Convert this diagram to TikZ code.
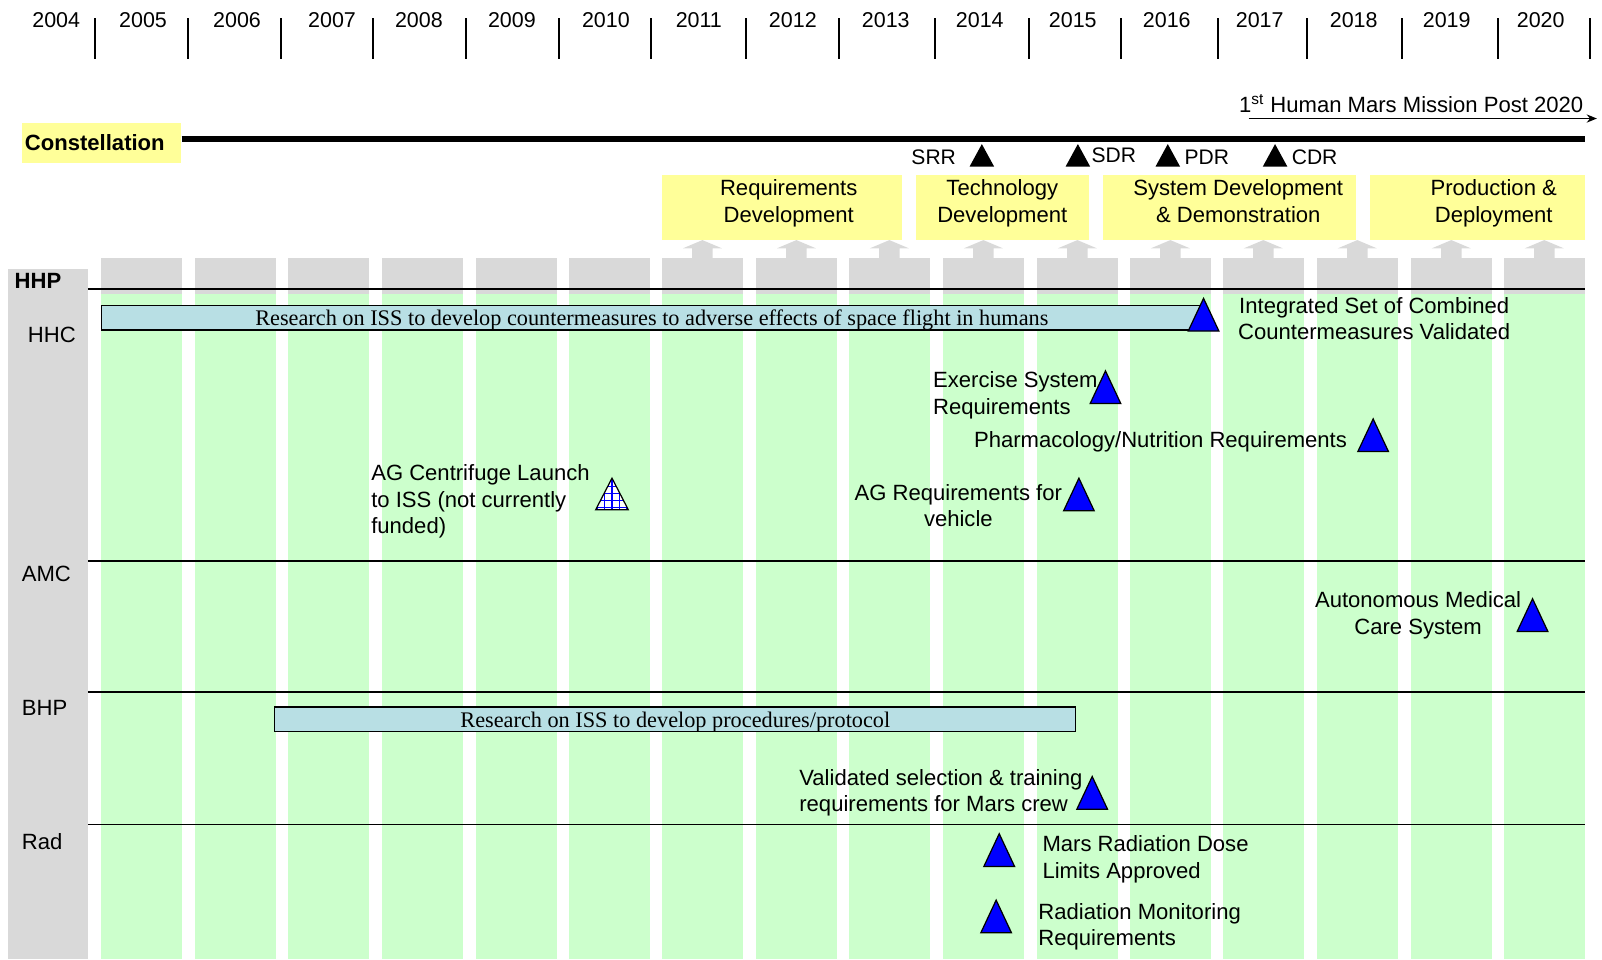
\documentclass[tikz,border=0pt]{standalone}
\usepackage{fontspec}
\setmainfont{Liberation Sans}
\newfontfamily\serifbar{Liberation Serif}
\usetikzlibrary{arrows.meta}
\definecolor{boxyellow}{HTML}{FFFF99}
\definecolor{colgray}{HTML}{D9D9D9}
\definecolor{colgreen}{HTML}{CCFFCC}
\definecolor{barblue}{HTML}{B8DFE4}
\definecolor{triblue}{HTML}{0000FF}
\begin{document}
\begin{tikzpicture}[x=0.5pt,y=-0.5pt,
  every node/.style={inner sep=0pt, font=\fontsize{10.8}{13}\selectfont},
  yearlbl/.style={font=\fontsize{10.5}{12}\selectfont},
  mslbl/.style={font=\fontsize{10.3}{12}\selectfont},
  phasebox/.style={fill=boxyellow, minimum height=32pt},
  rowline/.style={line width=0.8pt},
  researchbar/.style={draw=black, line width=0.6pt, fill=barblue, minimum height=12pt, text depth=0pt,
    font=\serifbar\fontsize{10.9}{12}\selectfont},
  bluetri/.pic={\filldraw[fill=triblue, draw=black, line width=0.6pt] (-15,0) -- (0,-32) -- (15,0) -- cycle;},
  blacktri/.pic={\fill[black] (-12,0) -- (0,-22) -- (12,0) -- cycle;}
]
\useasboundingbox (0,0) rectangle (1568,939);

% year columns
\foreach \cx [count=\i] in {99,191,282,374,466,557,648,740,831,923,1015,1106,1197,1289,1381,1472} {
  \fill[colgreen] (\cx,287) rectangle (\cx+79,939);
  \fill[colgray] (\cx,253) rectangle (\cx+79,288);
  \ifnum\i>6
    \fill[colgray] (\cx+29.5,253) -- (\cx+29.5,243) -- (\cx+20.5,243) -- (\cx+39.5,235)
      -- (\cx+58.5,243) -- (\cx+49.5,243) -- (\cx+49.5,253) -- cycle;
  \fi
}

% left panel
\fill[colgray] (8,263) rectangle (86,939);
\node[anchor=west, font=\bfseries\fontsize{10.8}{13}\selectfont] (hhp) at (14,275) {HHP};
\node[anchor=west] (hhc) at (27,328) {HHC};
\node[anchor=west] (amc) at (21,562) {AMC};
\node[anchor=west] (bhp) at (21,693) {BHP};
\node[anchor=west] (rad) at (21,824) {Rad};

% row lines
\foreach \ly in {283,549,677,807} \draw[rowline] (86,\ly) -- (1551,\ly);

% year ticks and labels
\foreach \tx in {93,184,275,365,456,547,637,730,821,915,1007,1097,1192,1279,1372,1466,1556}
  \draw[line width=0.8pt] (\tx,18) -- (\tx,58);
\foreach \yx/\yr in {55/2004,140/2005,232/2006,325/2007,410/2008,501/2009,593/2010,684/2011,776/2012,867/2013,959/2014,1050/2015,1142/2016,1233/2017,1325/2018,1416/2019,1508/2020}
  \node[yearlbl] (y\yr) at (\yx,20) {\yr};

% Constellation
\node[fill=boxyellow, anchor=north west, minimum height=19.5pt, text width=75pt, inner xsep=1.5pt,
  font=\bfseries\fontsize{10.8}{13}\selectfont] (const) at (21,120) {Constellation};
\coordinate (constend) at (1551,136);
\draw[line width=3pt] (const.east |- constend) -- (constend);

\node[anchor=east] (mission) at (1550,101) {1\textsuperscript{st} Human Mars Mission Post 2020};
\coordinate (arrA) at (1222,116);
\coordinate (arrB) at (1563,116);
\draw[line width=0.7pt, -{Stealth[length=5pt,width=4pt]}] (arrA) -- (arrB);

% milestones
\pic at (961,163) {blacktri};
\node[mslbl, anchor=east] (srr) at (936,154) {SRR};
\pic at (1055,163) {blacktri};
\node[mslbl, anchor=west] (sdr) at (1068,152) {SDR};
\pic at (1143,163) {blacktri};
\node[mslbl, anchor=west] (pdr) at (1159,154) {PDR};
\pic at (1248,163) {blacktri};
\node[mslbl, anchor=west] (cdr) at (1264,154) {CDR};

% phase boxes
\node[phasebox, minimum width=117.5pt] (reqbox) at (765.5,203) {};
\node[align=center] (req) at (772,199) {Requirements\\Development};
\node[phasebox, minimum width=84.5pt] (techbox) at (981.5,203) {};
\node[align=center] (tech) at (981,199) {Technology\\Development};
\node[phasebox, minimum width=123.5pt] (sysbox) at (1203.5,203) {};
\node[align=center] (sys) at (1212,197) {System Development\\\& Demonstration};
\node[phasebox, minimum width=105pt] (prodbox) at (1446,203) {};
\node[align=center] (prod) at (1462,199) {Production \&\\Deployment};

% HHC row
\node[researchbar, minimum width=539pt] (bar1) at (638,311)
  {Research on ISS to develop countermeasures to adverse effects of space flight in humans};
\pic at (1178,324) {bluetri};
\node[align=center] (integ) at (1345,312) {Integrated Set of Combined\\Countermeasures Validated};

\node[align=left, anchor=west] (exer) at (913,387) {Exercise System\\Requirements};
\pic at (1082,395) {bluetri};

\node[anchor=west] (pharm) at (953,432) {Pharmacology/Nutrition Requirements};
\pic at (1344,442) {bluetri};

\node[align=left, anchor=west] (agc) at (363,491) {AG Centrifuge Launch\\to ISS (not currently\\funded)};
\begin{scope}
  \clip (583,499) -- (599,468) -- (615,499) -- cycle;
  \fill[white] (580,460) rectangle (620,502);
  \foreach \gx in {585,592,599,606,613} \draw[triblue, line width=0.5pt] (\gx,460) -- (\gx,502);
  \foreach \gy in {476,483,490,497} \draw[triblue, line width=0.5pt] (580,\gy) -- (620,\gy);
\end{scope}
\draw[line width=0.6pt] (583,499) -- (599,468) -- (615,499) -- cycle;

\node[align=center] (agreq) at (938,495) {AG Requirements for\\vehicle};
\pic at (1056,500) {bluetri};

% AMC row
\node[align=center] (amcs) at (1388,602) {Autonomous Medical\\Care System};
\pic at (1500,618) {bluetri};

% BHP row
\node[researchbar, minimum width=392pt] (bar2) at (661,704)
  {Research on ISS to develop procedures/protocol};
\node[align=left, anchor=west] (valid) at (782,776) {Validated selection \& training\\requirements for Mars crew};
\pic at (1069,792) {bluetri};

% Rad row
\node[align=left, anchor=west] (dose) at (1020,841) {Mars Radiation Dose\\Limits Approved};
\pic at (978,848) {bluetri};
\node[align=left, anchor=west] (radmon) at (1016,907) {Radiation Monitoring\\Requirements};
\pic at (975,913) {bluetri};
\end{tikzpicture}
\end{document}
